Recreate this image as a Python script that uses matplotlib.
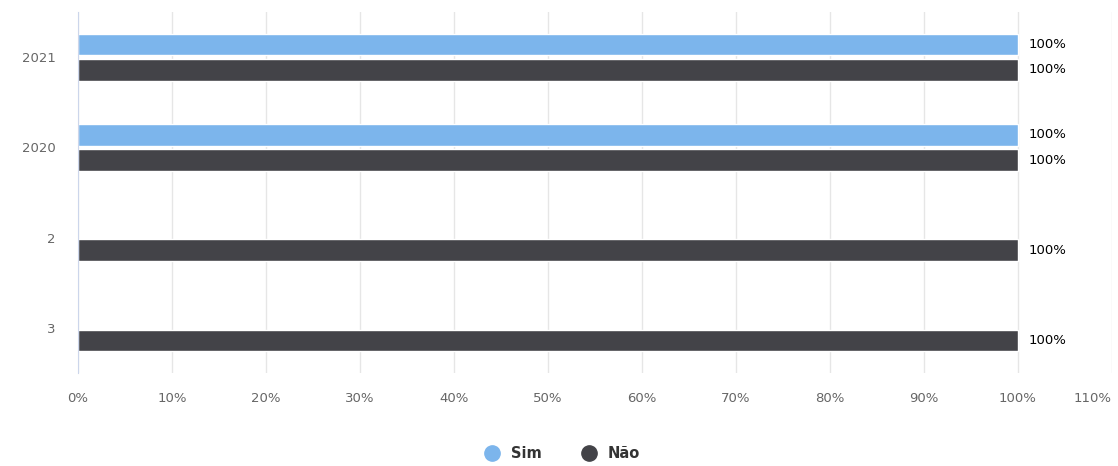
import numpy as np
import matplotlib.pyplot as plt
from matplotlib.lines import Line2D

categories = ['2021', '2020', '2', '3']
sim = [100, 100, None, None]
nao = [100, 100, 100, 100]
xticks = list(range(0, 111, 10))

sim_color = '#7cb5ec'
nao_color = '#434348'

fig = plt.figure(figsize=(11.18, 4.66), dpi=100)
ax = fig.add_axes([0.0698, 0.1996, 0.9248, 0.7744])

y = np.arange(len(categories))
h = 0.24
off = 0.14

for i, v in enumerate(sim):
    if v is not None:
        ax.barh(y[i] - off, v, height=h, color=sim_color, edgecolor='white', linewidth=1, zorder=3)
        ax.text(v + 1.1, y[i] - off, f'{v:.0f}%', va='center', ha='left', fontsize=9.5, color='black')
for i, v in enumerate(nao):
    ax.barh(y[i] + off, v, height=h, color=nao_color, edgecolor='white', linewidth=1, zorder=3)
    ax.text(v + 1.1, y[i] + off, f'{v:.0f}%', va='center', ha='left', fontsize=9.5, color='black')

ax.set_xlim(0, 110)
ax.set_ylim(len(categories) - 0.5, -0.5)
ax.set_xticks(xticks)
ax.set_xticklabels([f'{t}%' for t in xticks])
ax.get_xticklabels()[-1].set_ha('right')
ax.set_yticks(y)
ax.set_yticklabels(categories)
ax.tick_params(axis='x', length=0, pad=14, labelsize=9.5, labelcolor='#666666')
ax.tick_params(axis='y', length=0, pad=16, labelsize=9.5, labelcolor='#666666')
ax.grid(axis='x', color='#e6e6e6', linewidth=1, zorder=0)
for s in ['top', 'right', 'bottom']:
    ax.spines[s].set_visible(False)
ax.spines['left'].set_color('#ccd6eb')
ax.spines['left'].set_zorder(4)

handles = [Line2D([], [], marker='o', linestyle='', markersize=11, color=sim_color),
           Line2D([], [], marker='o', linestyle='', markersize=11, color=nao_color)]
leg = fig.legend(handles, ['Sim', 'Não'], loc='center', bbox_to_anchor=(0.5, 0.026), ncol=2,
                 frameon=False, handletextpad=0.3, columnspacing=2.2,
                 prop={'size': 10.5, 'weight': 'bold'})
for t in leg.get_texts():
    t.set_color('#333333')

fig.savefig('out.png', dpi=100)
